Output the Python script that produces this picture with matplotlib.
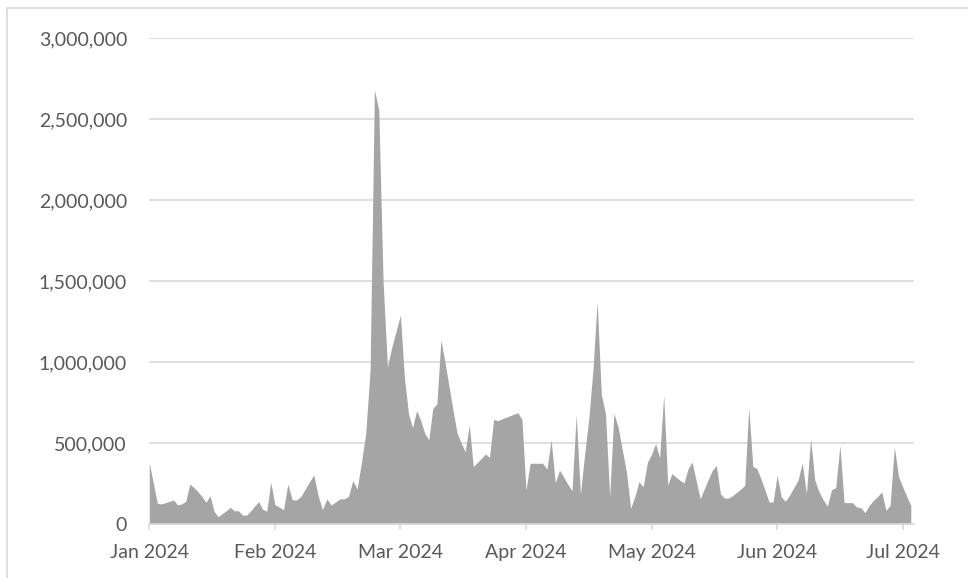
import numpy as np
import pandas as pd
import matplotlib
matplotlib.use("Agg")
import matplotlib.pyplot as plt
from matplotlib.ticker import FuncFormatter
from matplotlib.patches import Rectangle

plt.rcParams["font.family"] = ["Lato", "DejaVu Sans"]

# Daily values (thousands), one list per month
jan = [380, 250, 128, 124, 132, 140, 148, 118, 124, 140, 247, 225, 200, 170, 134, 175,
       78, 45, 64, 82, 103, 82, 82, 56, 54, 80, 110, 138, 90, 80, 258]
feb = [120, 105, 88, 247, 150, 148, 170, 215, 260, 303, 175, 89, 155, 118, 135, 155,
       155, 170, 268, 216, 380, 560, 950, 2680, 2556, 1500, 971, 1090, 1190]
mar = [1290, 900, 680, 595, 700, 640, 560, 519, 714, 741, 1136, 1000, 850, 700, 560, 500,
       446, 611, 354, 380, 405, 432, 412, 645, 638, 648, 658, 668, 678, 687, 646]
apr = [210, 375, 375, 375, 375, 338, 518, 255, 333, 290, 245, 206, 673, 185, 426, 650,
       950, 1372, 800, 680, 169, 683, 600, 460, 323, 97, 170, 261, 230, 380]
may = [430, 496, 409, 794, 240, 311, 290, 270, 253, 340, 383, 270, 156, 215, 275, 331,
       362, 187, 160, 160, 175, 195, 215, 239, 722, 356, 342, 280, 210, 136, 136]
jun = [300, 167, 140, 180, 225, 270, 377, 187, 527, 270, 200, 150, 109, 212, 225, 486,
       132, 132, 132, 105, 101, 70, 115, 145, 170, 198, 84, 115, 475, 294]
jul = [230, 170, 115]

month_labels = ["Jan 2024", "Feb 2024", "Mar 2024", "Apr 2024",
                "May 2024", "Jun 2024", "Jul 2024"]
y_ticks = [0, 500000, 1000000, 1500000, 2000000, 2500000, 3000000]

values = np.array(jan + feb + mar + apr + may + jun + jul, dtype=float) * 1000
dates = pd.date_range("2024-01-01", periods=len(values), freq="D")


def month_position(idx):
    """Months since Jan 2024, with each month given equal width."""
    months = (idx.year - 2024) * 12 + idx.month - 1
    return np.asarray(months + (idx.day - 1) / idx.days_in_month, dtype=float)


x = month_position(dates)

text_color = "#595959"
line_color = "#d9d9d9"

fig = plt.figure(figsize=(9.68, 5.78), dpi=100)
ax = fig.add_axes([0.1542, 0.0934, 0.7900, 0.8409])

ax.fill_between(x, values, 0, color="#a5a5a5", linewidth=0, zorder=2)

ax.set_xlim(0, 6.09)
ax.set_ylim(0, 3000000)

ax.set_yticks(y_ticks)
ax.yaxis.set_major_formatter(FuncFormatter(lambda v, p: f"{int(v):,}"))
ax.yaxis.grid(True, color=line_color, linewidth=1.2, zorder=1)
ax.set_axisbelow(True)

ax.set_xticks(range(len(month_labels)))
ax.set_xticklabels(month_labels)

for side in ("top", "right", "left"):
    ax.spines[side].set_visible(False)
ax.spines["bottom"].set_color(line_color)
ax.spines["bottom"].set_linewidth(1.2)
ax.spines["bottom"].set_zorder(3)

ax.tick_params(axis="x", direction="out", length=4.5, width=1.2, color=line_color,
               labelcolor=text_color, labelsize=14, pad=10)
ax.tick_params(axis="y", length=0, labelcolor=text_color, labelsize=14, pad=16)

# chart border
fig.add_artist(Rectangle((7 / 968, -0.05), 1.0, 1 - 8 / 578 + 0.05,
                         transform=fig.transFigure, fill=False,
                         edgecolor=line_color, linewidth=1.2))

fig.savefig("out.png", dpi=100, facecolor="white")
